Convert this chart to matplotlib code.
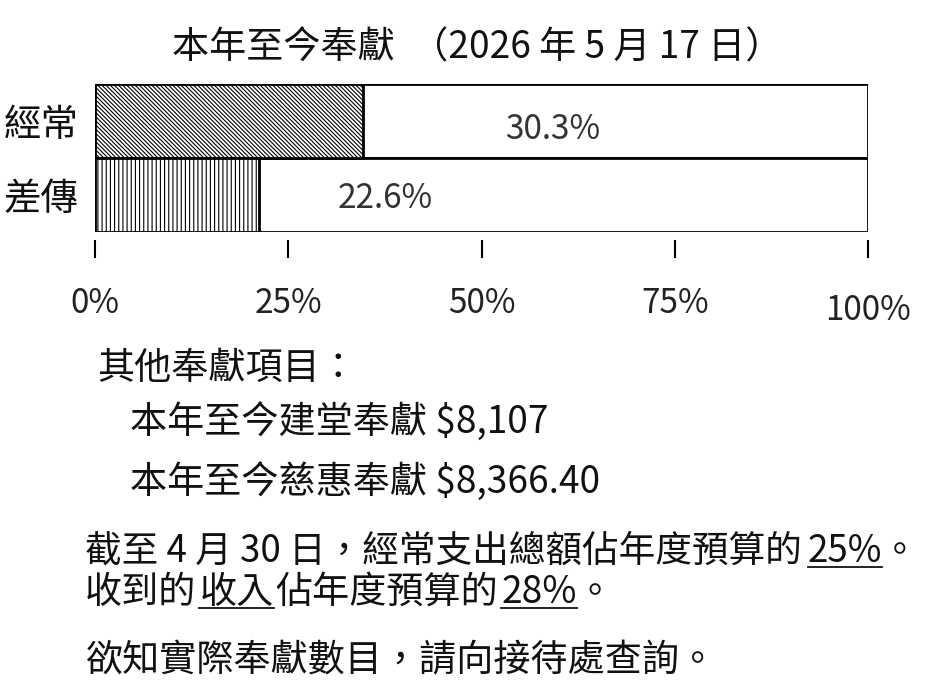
import matplotlib
matplotlib.use("Agg")
import matplotlib.pyplot as plt
from matplotlib.lines import Line2D
from matplotlib.transforms import IdentityTransform, ScaledTranslation

plt.rcParams['font.family'] = ['Noto Sans CJK TC', 'DejaVu Sans']
plt.rcParams['hatch.linewidth'] = 0.8

# ---- data ----
categories = ["經常", "差傳"]
fill_values = [34.7, 21.2]          # hatched fill length (%)
value_labels = ["30.3%", "22.6%"]   # printed labels
tick_values = [0, 25, 50, 75, 100]
tick_labels = ["0%", "25%", "50%", "75%", "100%"]
title = "本年至今奉獻  （2026 年 5 月 17 日）"
other_header = "其他奉獻項目："
other_items = ["本年至今建堂奉獻 $8,107", "本年至今慈惠奉獻 $8,366.40"]
note1 = ["截至 4 月 30 日，經常支出總額佔年度預算的", "25%", "。"]
note2 = ["收到的", "收入", "佔年度預算的", "28%", "。"]
note3 = "欲知實際奉獻數目，請向接待處查詢。"

# ---- layout / style ----
W, H = 927, 682
FS = 26.7
TXT = "#111111"
hatches = ['\\' * 8, '||||']
label_pos = [(59.2, -0.12), (37.5, -0.05)]

fig = plt.figure(figsize=(W / 100, H / 100), dpi=100)
ax = fig.add_axes([95 / W, (H - 232) / H, (868 - 95) / W, (232 - 84) / H])

ypos = [1, 0]
ax.barh(ypos, [100, 100], height=1.0, left=0, color="white",
        edgecolor="black", linewidth=2, zorder=1)
for y, v, h in zip(ypos, fill_values, hatches):
    ax.barh(y, v, height=1.0, left=0, color="white", edgecolor="black",
            hatch=h, linewidth=2, zorder=2)
for y, lab, (lx, dy) in zip(ypos, value_labels, label_pos):
    ax.text(lx, y + dy, lab, ha="center", va="center", fontsize=24, color="#333333")

ax.set_xlim(0, 100)
ax.set_ylim(-0.5, 1.5)
ax.set_yticks(ypos)
ax.set_yticklabels(categories)
ax.tick_params(axis="y", length=0, pad=12, labelsize=27, labelcolor=TXT)
ax.set_xticks(tick_values)
ax.set_xticklabels(tick_labels)
ax.tick_params(axis="x", direction="out", length=13, width=1.5, pad=20,
               labelsize=24, labelcolor="#222222")
ax.spines['bottom'].set_position(('outward', 6))
for s in ax.spines.values():
    s.set_visible(False)
lab100 = ax.get_xticklabels()[-1]
lab100.set_transform(lab100.get_transform() + ScaledTranslation(0, -7 / 100, fig.dpi_scale_trans))

fig.text(477 / W, 1 - 58 / H, title, ha="center", va="baseline", fontsize=FS, color=TXT)

renderer = fig.canvas.get_renderer()


def text_width(s, size):
    t = fig.text(0, 0, s, fontsize=size)
    w = t.get_window_extent(renderer).width
    t.remove()
    return w


def draw_line(x, y, segs, size=FS):
    """segs: (text, underline_chars, gap) - first `underline_chars` chars underlined."""
    cur = x
    for text, ul, gap in segs:
        cur += gap
        t = fig.text(cur / W, 1 - y / H, text, ha="left", va="baseline",
                     fontsize=size, color=TXT)
        bb = t.get_window_extent(renderer)
        if ul:
            uw = bb.width if ul >= len(text) else text_width(text[:ul], size)
            fig.add_artist(Line2D([bb.x0, bb.x0 + uw], [H - y - 5, H - y - 5],
                                  transform=IdentityTransform(), color=TXT, linewidth=1.3))
        cur = bb.x1


draw_line(97, 379, [(other_header, 0, 0)])
draw_line(130, 433, [(other_items[0], 0, 0)])
draw_line(130, 493, [(other_items[1], 0, 0)])
draw_line(85, 562, [(note1[0], 0, 0), (note1[1] + note1[2], len(note1[1]), 6)], size=26.4)
draw_line(85, 603, [(note2[0], 0, 0), (note2[1], 2, 3), (note2[2], 0, 2),
                    (note2[3] + note2[4], len(note2[3]), 3)])
draw_line(85, 671, [(note3, 0, 0)])

fig.savefig("out.png", dpi=100, facecolor="white")
